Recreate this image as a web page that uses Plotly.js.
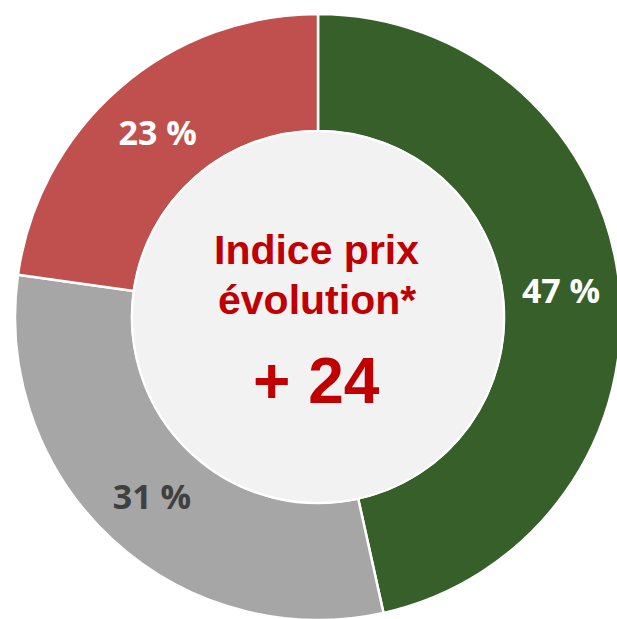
<!DOCTYPE html>
<html>
<head>
<meta charset="utf-8">
<script src="https://cdn.plot.ly/plotly-3.0.1.min.js"></script>
<style>
  html, body { margin: 0; padding: 0; overflow: hidden; background: #ffffff; }
  #chart { width: 621px; height: 621px; }
</style>
</head>
<body>
<div id="chart"></div>
<script>
// Data
const categories = ['Hausse', 'Stable', 'Baisse'];
const shares = [47, 31, 23];
const sliceColors = ['#375F2A', '#A6A6A6', '#C0504D'];
const labelColors = ['#FFFFFF', '#404040', '#FFFFFF'];
const centerTitle = ['Indice prix', 'évolution*'];
const centerValue = '+ 24';

const trace = {
  type: 'pie',
  labels: categories,
  values: shares,
  sort: false,
  direction: 'clockwise',
  rotation: 0,
  hole: 0.614,
  marker: { colors: sliceColors, line: { color: '#FFFFFF', width: 2.5 } },
  texttemplate: '%{value} %',
  textposition: 'inside',
  insidetextorientation: 'horizontal',
  textfont: { family: '"Open Sans", Lato, sans-serif', size: 34, color: labelColors, weight: 700 },
  hoverinfo: 'none',
  showlegend: false
};

const redFont = { family: '"Liberation Sans", Arial, sans-serif', color: '#C00000' };

const layout = {
  width: 621,
  height: 621,
  margin: { l: 15, r: 0, t: 14, b: 1, pad: 0 },
  paper_bgcolor: '#FFFFFF',
  showlegend: false,
  shapes: [{
    type: 'circle', xref: 'paper', yref: 'paper',
    x0: 0.193, x1: 0.807, y0: 0.193, y1: 0.807,
    fillcolor: '#F2F2F2', line: { color: '#FFFFFF', width: 2 }, layer: 'above'
  }],
  annotations: [
    { text: '<b>' + centerTitle[0] + '</b>', xref: 'paper', yref: 'paper', x: 0.498, y: 0.6106,
      xanchor: 'center', yanchor: 'middle', showarrow: false, font: Object.assign({ size: 41 }, redFont) },
    { text: '<b>' + centerTitle[1] + '</b>', xref: 'paper', yref: 'paper', x: 0.498, y: 0.528,
      xanchor: 'center', yanchor: 'middle', showarrow: false, font: Object.assign({ size: 41 }, redFont) },
    { text: '<b>' + centerValue + '</b>', xref: 'paper', yref: 'paper', x: 0.497, y: 0.394,
      xanchor: 'center', yanchor: 'middle', showarrow: false, font: Object.assign({ size: 64 }, redFont) }
  ]
};

Plotly.newPlot('chart', [trace], layout, { displayModeBar: false, staticPlot: true });
</script>
</body>
</html>
